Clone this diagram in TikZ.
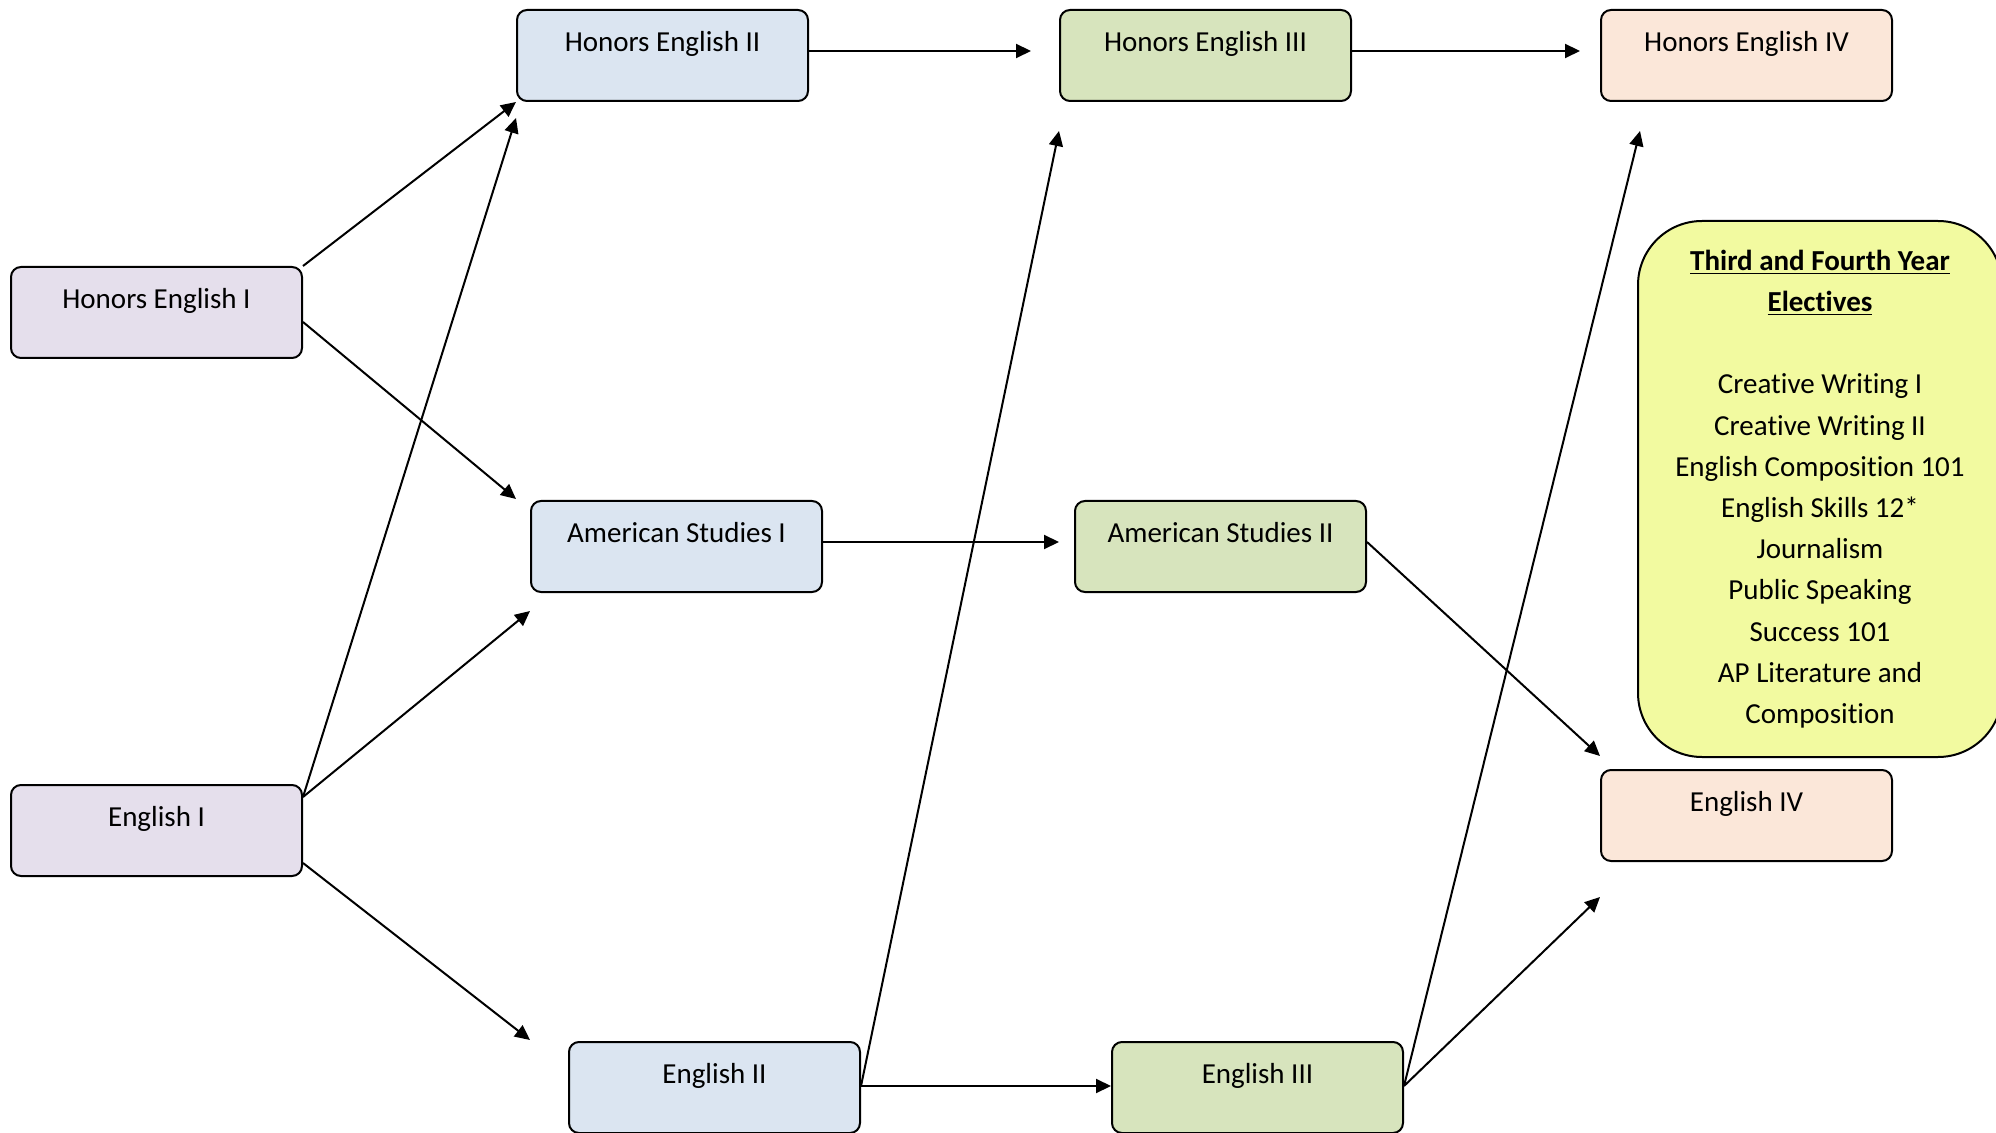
\documentclass[tikz,border=0pt]{standalone}
\usepackage{fontspec}
\setmainfont{Carlito}[Ligatures=NoCommon]
\usetikzlibrary{arrows.meta,calc}
\definecolor{yearone}{HTML}{E5DFEC}
\definecolor{yeartwo}{HTML}{DBE5F1}
\definecolor{yearthree}{HTML}{D7E4BD}
\definecolor{yearfour}{HTML}{FBE7D9}
\definecolor{electfill}{HTML}{F2FAA0}
\begin{document}
\begin{tikzpicture}[x=0.5pt,y=-0.5pt,
  course/.style={draw=black, line width=1pt, rounded corners=5pt,
    minimum width=145.5pt, minimum height=45.5pt, inner sep=0pt,
    text height=20.8pt, text depth=24.7pt, anchor=north west,
    font=\fontsize{14.5}{17}\selectfont},
  link/.style={line width=1pt, -{Triangle[length=7.5pt,width=7pt]}}]
\useasboundingbox (0,0) rectangle (1996,1133);

% first year
\node[course, fill=yearone] (he1) at (10,266) {Honors English I};
\node[course, fill=yearone] (e1) at (10,784) {English I};
% second year
\node[course, fill=yeartwo] (he2) at (516,9) {Honors English II};
\node[course, fill=yeartwo] (as1) at (530,500) {American Studies I};
\node[course, fill=yeartwo] (e2) at (568,1041) {English II};
% third year
\node[course, fill=yearthree] (he3) at (1059,9) {Honors English III};
\node[course, fill=yearthree] (as2) at (1074,500) {American Studies II};
\node[course, fill=yearthree] (e3) at (1111,1041) {English III};
% fourth year
\node[course, fill=yearfour] (he4) at (1600,9) {Honors English IV};
\node[course, fill=yearfour] (e4) at (1600,769) {English IV};

% electives panel
\node[draw=black, line width=1pt, rounded corners=32pt, fill=electfill,
  minimum width=182pt, minimum height=268pt, inner sep=0pt,
  anchor=north west, align=center,
  font=\fontsize{14.5}{20.6}\selectfont] (elect) at (1637,220)
  {\textbf{\underline{Third and Fourth Year}}\\
   \textbf{\underline{Electives}}\\[20.6pt]
   Creative Writing I\\
   Creative Writing II\\
   English Composition 101\\
   English Skills 12*\\
   Journalism\\
   Public Speaking\\
   Success 101\\
   AP Literature and\\
   Composition};

% arrow targets
\coordinate (t-he2a) at (516,102);
\coordinate (t-he2b) at (516,118);
\coordinate (t-as1a) at (516,499);
\coordinate (t-as1b) at (530,611);
\coordinate (t-e2) at (530,1040);
\coordinate (t-he3a) at (1031,51);
\coordinate (t-he3b) at (1059,131);
\coordinate (t-as2) at (1059,542);
\coordinate (t-e3) at (1111,1086);
\coordinate (t-he4a) at (1580,51);
\coordinate (t-he4b) at (1640,131);
\coordinate (t-e4a) at (1600,756);
\coordinate (t-e4b) at (1600,897);

% connections
\draw[link] (he1.north east) -- (t-he2a);
\draw[link] ($(he1.north east)+(0,56)$) -- (t-as1a);
\draw[link] ($(e1.north east)+(0,13)$) -- (t-he2b);
\draw[link] ($(e1.north east)+(0,13)$) -- (t-as1b);
\draw[link] ($(e1.north east)+(0,79)$) -- (t-e2);
\draw[link] ($(he2.north east)+(0,42)$) -- (t-he3a);
\draw[link] ($(as1.north east)+(0,42)$) -- (t-as2);
\draw[link] ($(e2.north east)+(0,45)$) -- (t-he3b);
\draw[link] ($(e2.north east)+(0,45)$) -- (t-e3);
\draw[link] ($(he3.north east)+(0,42)$) -- (t-he4a);
\draw[link] ($(as2.north east)+(0,42)$) -- (t-e4a);
\draw[link] ($(e3.north east)+(0,45)$) -- (t-he4b);
\draw[link] ($(e3.north east)+(0,45)$) -- (t-e4b);
\end{tikzpicture}
\end{document}
